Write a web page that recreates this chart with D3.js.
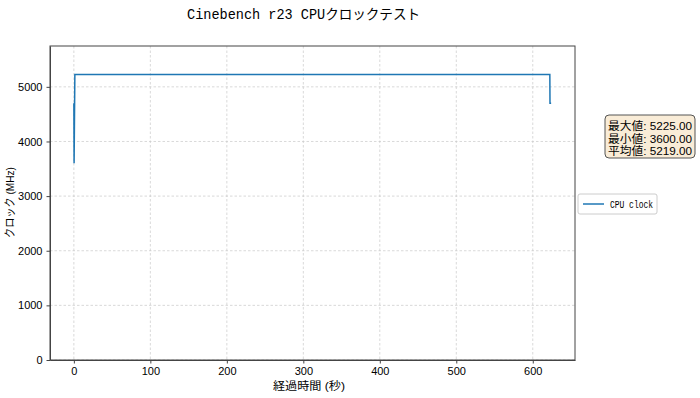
<!DOCTYPE html>
<html>
<head>
<meta charset="utf-8">
<script src="https://cdnjs.cloudflare.com/ajax/libs/d3/7.8.5/d3.min.js"></script>
<style>
  body { margin: 0; background: #fff; }
  svg { font-family: "Liberation Sans", "Noto Sans CJK JP", sans-serif; }
  .mono { font-family: "Liberation Mono", "Noto Sans CJK JP", monospace; }
  .grid line { stroke: #c8c8c8; stroke-dasharray: 2.5,2; stroke-width: 0.7; }
  .axis text { font-size: 11px; fill: #000; font-family: "Liberation Sans", sans-serif; }
  .axis path, .axis line { stroke: #444; }
</style>
</head>
<body>
<div id="chart"></div>
<script>
// sample times (s) and CPU clock (MHz)
const times  = [0, 0.3, 1.3, 622.3, 622.5, 624];
const clocks = [4700, 3600, 5225, 5225, 4700, 4700];
const xTicks = [0, 100, 200, 300, 400, 500, 600];
const yTicks = [0, 1000, 2000, 3000, 4000, 5000];
const statLines = ["最大値: 5225.00", "最小値: 3600.00", "平均値: 5219.00"];

const width = 700, height = 398,
    margin = {top: 46, right: 125, bottom: 38, left: 50},
    w = width - margin.left - margin.right,
    h = height - margin.top - margin.bottom;

const svg = d3.select("#chart").append("svg")
    .attr("width", width)
    .attr("height", height);

const x = d3.scaleLinear().domain([-31.2, 655.2]).range([0, w]);
const y = d3.scaleLinear().domain([0, 5747.5]).range([h, 0]);

const g = svg.append("g").attr("transform", "translate(" + margin.left + "," + margin.top + ")");

// grid
g.append("g").attr("class", "grid")
    .selectAll("line").data(xTicks).enter().append("line")
    .attr("x1", d => x(d)).attr("x2", d => x(d))
    .attr("y1", 0).attr("y2", h);
g.append("g").attr("class", "grid")
    .selectAll("line").data(yTicks).enter().append("line")
    .attr("x1", 0).attr("x2", w)
    .attr("y1", d => y(d)).attr("y2", d => y(d));

// line
const pts = times.map((t, i) => [t, clocks[i]]);
g.append("path")
    .datum(pts)
    .attr("fill", "none")
    .attr("stroke", "#1f77b4")
    .attr("stroke-width", 1.5)
    .attr("d", d3.line().x(d => x(d[0])).y(d => y(d[1])));

// axes
g.append("g").attr("class", "axis")
    .attr("transform", "translate(0," + h + ")")
    .call(d3.axisBottom(x).tickValues(xTicks).tickFormat(d3.format("d")).tickSize(3.5).tickPadding(4).tickSizeOuter(0));
g.append("g").attr("class", "axis")
    .call(d3.axisLeft(y).tickValues(yTicks).tickFormat(d3.format("d")).tickSize(3.5).tickPadding(4).tickSizeOuter(0));

g.append("rect")
    .attr("width", w).attr("height", h)
    .attr("fill", "none").attr("stroke", "#444").attr("stroke-width", 1);

// titles
svg.append("text").attr("class", "mono")
    .attr("x", 187).attr("y", 19)
    .attr("font-size", 14)
    .attr("textLength", 233).attr("lengthAdjust", "spacingAndGlyphs")
    .text("Cinebench r23 CPUクロックテスト");
svg.append("text")
    .attr("x", 273).attr("y", 390)
    .attr("font-size", 11)
    .attr("textLength", 72).attr("lengthAdjust", "spacingAndGlyphs")
    .text("経過時間 (秒)");
svg.append("text")
    .attr("transform", "translate(14,238) rotate(-90)")
    .attr("font-size", 11)
    .attr("textLength", 71).attr("lengthAdjust", "spacingAndGlyphs")
    .text("クロック (MHz)");

// legend
const lg = svg.append("g").attr("transform", "translate(578,194)");
lg.append("rect").attr("width", 79).attr("height", 20).attr("rx", 2)
    .attr("fill", "#fff").attr("stroke", "#ccc");
lg.append("line").attr("x1", 5).attr("x2", 26).attr("y1", 10).attr("y2", 10)
    .attr("stroke", "#1f77b4").attr("stroke-width", 1.5);
lg.append("text").attr("class", "mono")
    .attr("x", 32).attr("y", 14).attr("font-size", 10)
    .attr("textLength", 43).attr("lengthAdjust", "spacingAndGlyphs")
    .text("CPU clock");

// stats box
const sb = svg.append("g").attr("transform", "translate(605,115)");
sb.append("rect").attr("width", 90).attr("height", 43).attr("rx", 4)
    .attr("fill", "#f9ecd7").attr("stroke", "#555");
sb.selectAll("text").data(statLines).enter().append("text")
    .attr("x", 3).attr("y", (d, i) => 15 + i * 12.5)
    .attr("font-size", 11)
    .attr("textLength", 84).attr("lengthAdjust", "spacingAndGlyphs")
    .text(d => d);
</script>
</body>
</html>
